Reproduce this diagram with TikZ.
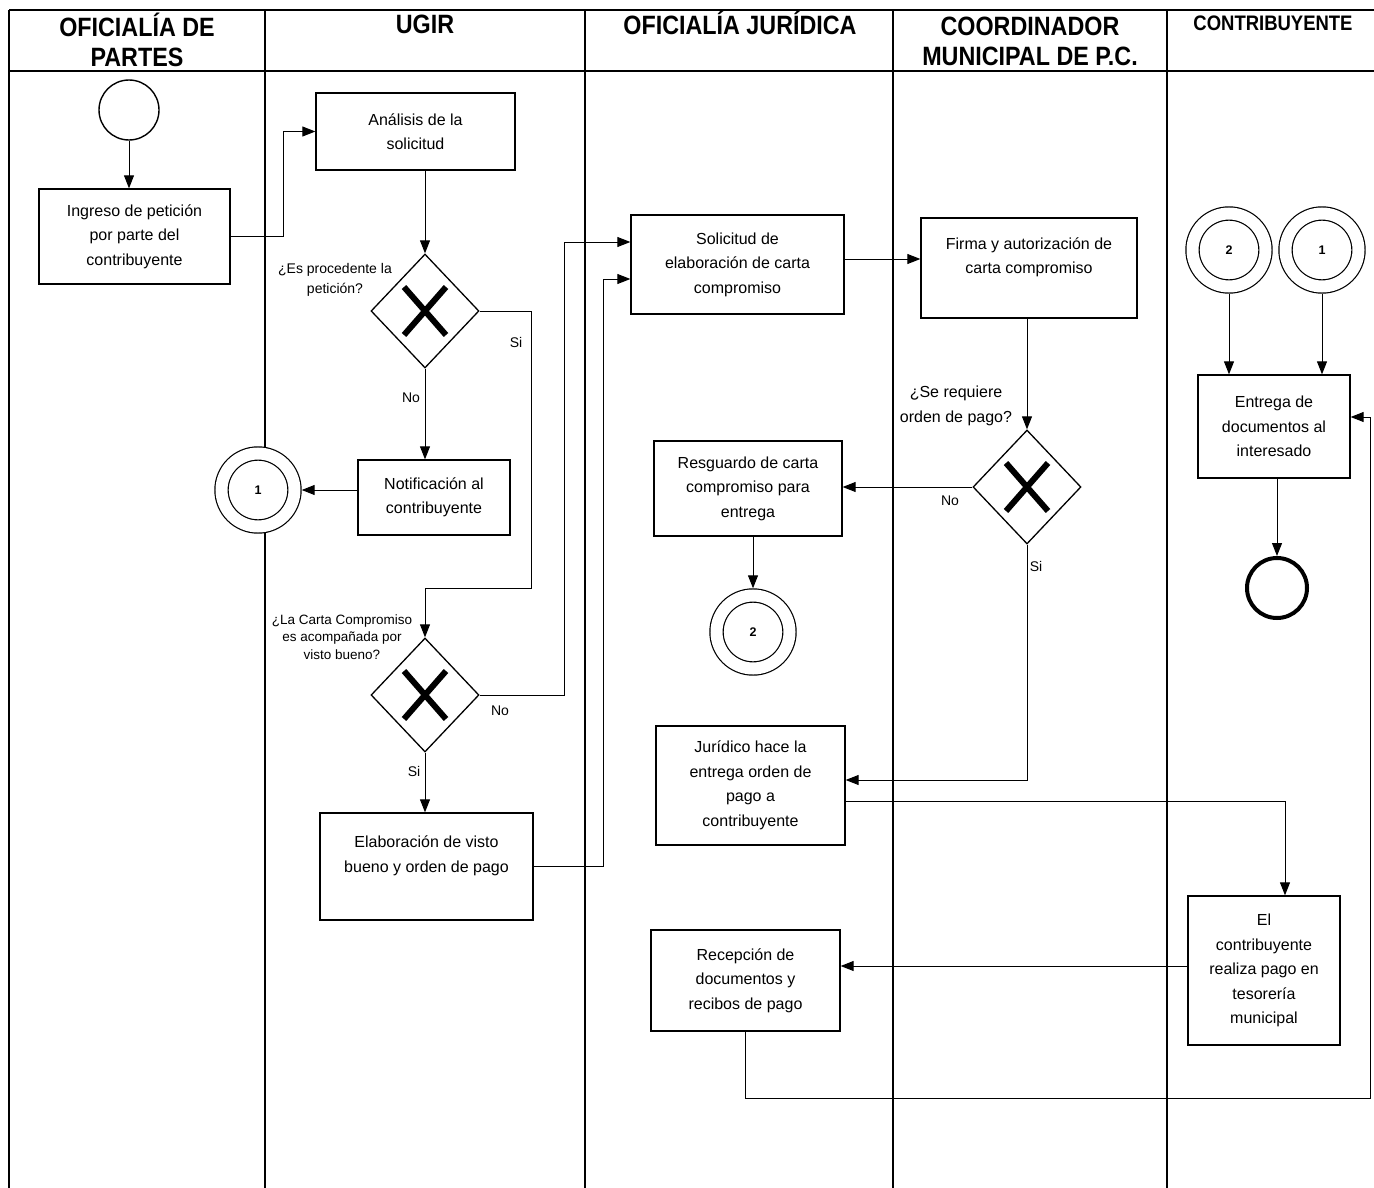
\documentclass[tikz,border=0pt]{standalone}
\usepackage{fontspec}
\setmainfont{Liberation Sans}
\newfontfamily\headfont[FakeStretch=0.88]{Liberation Sans}
\usetikzlibrary{shapes.geometric,arrows.meta,positioning}

\tikzset{
  lane/.style={line width=1.6pt},
  lanetitle/.style={font=\headfont\bfseries\fontsize{26.5}{30}\selectfont, align=center, inner sep=0pt},
  task/.style={draw, line width=1.3pt, fill=white, align=center, font=\fontsize{16}{24.5}\selectfont},
  gateway/.style={draw, diamond, line width=1.3pt, fill=white, minimum width=108pt, minimum height=114pt, inner sep=0pt,
    path picture={
      \draw[line width=6pt] ([shift={(-21pt,-24pt)}]path picture bounding box.center) -- ([shift={(21pt,24pt)}]path picture bounding box.center);
      \draw[line width=6pt] ([shift={(-21pt,24pt)}]path picture bounding box.center) -- ([shift={(21pt,-24pt)}]path picture bounding box.center);}},
  startev/.style={draw, circle, line width=1.4pt, minimum size=60pt, inner sep=0pt},
  endev/.style={draw, circle, line width=4pt, minimum size=60pt, inner sep=0pt},
  linkev/.style={draw, circle, double, double distance=12pt, line width=1.2pt, fill=white, minimum size=73pt,
    inner sep=0pt, outer sep=7.2pt, font=\bfseries\fontsize{12.5}{12.5}\selectfont},
  flow/.style={-{Triangle[length=13pt,width=10pt]}, line width=1pt},
  question/.style={align=center, inner sep=0pt},
  answer/.style={font=\fontsize{14}{14}\selectfont, inner sep=0pt},
}

\begin{document}
\begin{tikzpicture}[x=1pt,y=-1pt]
  \useasboundingbox (0,0) rectangle (1374,1188);

  % carriles
  \draw[lane] (9,10) -- (1374,10);
  \draw[lane] (9,71) -- (1374,71);
  \foreach \x in {9,265,585,893,1167}
    \draw[lane] (\x,10) -- (\x,1188);

  \node[lanetitle] (tPartes) at (137,40) {OFICIALÍA DE\\PARTES};
  \node[lanetitle] (tUgir) at (425,24) {UGIR};
  \node[lanetitle] (tJuridica) at (740,22.5) {OFICIALÍA JURÍDICA};
  \node[lanetitle] (tCoord) at (1030,41) {COORDINADOR\\MUNICIPAL DE P.C.};
  \node[lanetitle, font=\headfont\bfseries\fontsize{21}{24}\selectfont] (tContrib) at (1273,23.5) {CONTRIBUYENTE};

  % oficialia de partes / ugir
  \node[startev] (inicio) at (129,110) {};
  \node[task, minimum width=191pt, minimum height=95pt] (ingreso) at (134.5,236.5) {Ingreso de petición\\por parte del\\contribuyente};
  \node[task, minimum width=199pt, minimum height=77pt] (analisis) at (415.5,131.5) {Análisis de la\\solicitud};
  \node[gateway] (procede) at (425,311) {};
  \node[question, font=\fontsize{14}{20}\selectfont] (qProcede) at (335,280) {¿Es procedente la\\petición?};
  \node[task, minimum width=152pt, minimum height=75pt] (notif) at (434,497.5) {Notificación al\\contribuyente};
  \node[linkev] (enlaceA) at (258,490) {1};
  \node[gateway] (visto) at (425,695) {};
  \node[question, font=\fontsize{13.5}{17.5}\selectfont] (qVisto) at (342,637) {¿La Carta Compromiso\\es acompañada por\\visto bueno?};
  \node[task, minimum width=213pt, minimum height=107pt] (elab) at (426.5,866.5) {Elaboración de visto\\bueno y orden de pago\\\mbox{}};

  % juridica / coordinador
  \node[task, minimum width=213pt, minimum height=99pt] (solic) at (737.5,264.5) {Solicitud de\\elaboración de carta\\compromiso};
  \node[task, minimum width=216pt, minimum height=100pt] (firma) at (1029,268) {Firma y autorización de\\carta compromiso\\\mbox{}};
  \node[gateway] (orden) at (1027,487) {};
  \node[question, font=\fontsize{16}{25}\selectfont] (qOrden) at (956,406) {¿Se requiere\\orden de pago?};
  \node[task, minimum width=188pt, minimum height=95pt] (resguardo) at (748,488.5) {Resguardo de carta\\compromiso para\\entrega};
  \node[linkev] (enlaceB) at (753,632) {2};
  \node[task, minimum width=189pt, minimum height=119pt] (juridico) at (750.5,785.5) {Jurídico hace la\\entrega orden de\\pago a\\contribuyente};
  \node[task, minimum width=189pt, minimum height=101pt] (recepcion) at (745.5,980.5) {Recepción de\\documentos y\\recibos de pago};

  % contribuyente
  \node[linkev] (llegaB) at (1229,250) {2};
  \node[linkev] (llegaA) at (1322,250) {1};
  \node[task, minimum width=152pt, minimum height=103pt] (entrega) at (1274,426.5) {Entrega de\\documentos al\\interesado};
  \node[endev] (fin) at (1277,588) {};
  \node[task, minimum width=152pt, minimum height=149pt] (pago) at (1264,970.5) {El\\contribuyente\\realiza pago en\\tesorería\\municipal};

  % flujos
  \draw[flow] (inicio) -- (inicio |- ingreso.north);
  \draw[flow] (ingreso.east) -- ++(53,0) |- (analisis.west);
  \draw[flow] (analisis.south -| procede) -- (procede.north);
  \draw[flow] (procede.south) -- (notif.north -| procede);
  \draw[flow] (notif.west |- enlaceA) -- (enlaceA);
  \draw[flow] (procede.east) -- ++(52,0) -- ++(0,277) -| (visto.north);
  \draw[flow] (visto.east) -- ++(85,0) |- ([yshift=22.5pt]solic.west);
  \draw[flow] (visto.south) -- (elab.north -| visto);
  \draw[flow] (elab.east) -- ++(70,0) |- ([yshift=-14.5pt]solic.west);
  \draw[flow] ([yshift=5.5pt]solic.east) -- ([yshift=5.5pt]solic.east -| firma.west);
  \draw[flow] (firma.south -| orden) -- (orden.north);
  \draw[flow] (orden.west) -- (orden.west -| resguardo.east);
  \draw[flow] (resguardo.south -| enlaceB) -- (enlaceB);
  \draw[flow] (orden.south) |- ([yshift=5.5pt]juridico.east);
  \draw[flow] ([yshift=-15.5pt]juridico.east) -| ([xshift=21pt]pago.north);
  \draw[flow] ([yshift=4.5pt]pago.west) -- ([yshift=4.5pt]pago.west -| recepcion.east);
  \draw[flow] (recepcion.south) -- ++(0,67) -- ++(625,0) |- ([yshift=9.5pt]entrega.east);
  \draw[flow] (llegaB) -- (llegaB |- entrega.north);
  \draw[flow] (llegaA) -- (llegaA |- entrega.north);
  \draw[flow] (entrega.south -| fin) -- (fin);

  % respuestas
  \node[answer] (siProcede) at (516,342) {Si};
  \node[answer] (noProcede) at (411,398) {No};
  \node[answer] (noVisto) at (500,711) {No};
  \node[answer] (siVisto) at (414,771) {Si};
  \node[answer] (noOrden) at (950,501) {No};
  \node[answer] (siOrden) at (1036,566) {Si};
\end{tikzpicture}
\end{document}
